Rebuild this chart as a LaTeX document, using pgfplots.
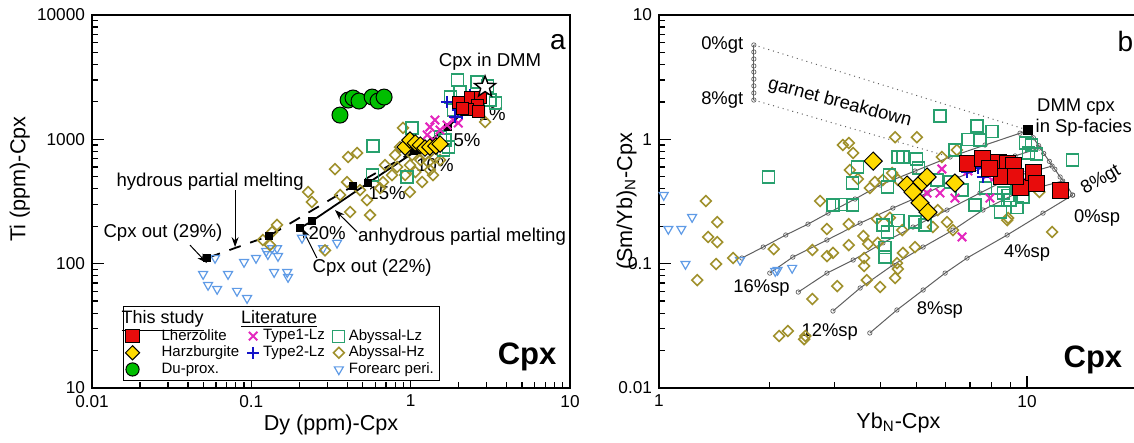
\documentclass[border=0pt]{standalone}
\usepackage{fontspec}
\setmainfont{Liberation Sans}
\usepackage{pgfplots}
\pgfplotsset{compat=1.18}
\usetikzlibrary{arrows.meta}

\definecolor{cred}{RGB}{232,12,12}
\definecolor{cyel}{RGB}{255,218,0}
\definecolor{cgrn}{RGB}{0,190,0}
\definecolor{cmag}{RGB}{228,40,190}
\definecolor{cblu}{RGB}{20,20,200}
\definecolor{cabl}{RGB}{40,160,110}
\definecolor{cabh}{RGB}{160,145,45}
\definecolor{cfor}{RGB}{95,155,230}
\definecolor{cmod}{RGB}{95,95,95}

\newcommand\lgf{\fontsize{7.5}{8.4}\selectfont}
\newcommand\lgh{\fontsize{9}{10}\selectfont}

\pgfdeclareplotmark{pstar}{%
  \pgfpathmoveto{\pgfpointpolar{90}{\pgfplotmarksize}}%
  \pgfpathlineto{\pgfpointpolar{126}{0.42*\pgfplotmarksize}}%
  \pgfpathlineto{\pgfpointpolar{162}{\pgfplotmarksize}}%
  \pgfpathlineto{\pgfpointpolar{198}{0.42*\pgfplotmarksize}}%
  \pgfpathlineto{\pgfpointpolar{234}{\pgfplotmarksize}}%
  \pgfpathlineto{\pgfpointpolar{270}{0.42*\pgfplotmarksize}}%
  \pgfpathlineto{\pgfpointpolar{306}{\pgfplotmarksize}}%
  \pgfpathlineto{\pgfpointpolar{342}{0.42*\pgfplotmarksize}}%
  \pgfpathlineto{\pgfpointpolar{18}{\pgfplotmarksize}}%
  \pgfpathlineto{\pgfpointpolar{54}{0.42*\pgfplotmarksize}}%
  \pgfpathclose
  \pgfusepathqfillstroke
}

\pgfplotsset{
  sLh/.style={only marks, mark=square*, mark size=3.3pt, mark options={fill=cred, draw=black, line width=0.5pt}},
  sHz/.style={only marks, mark=square*, mark size=2.9pt, mark options={rotate=45, fill=cyel, draw=black, line width=0.5pt}},
  sDu/.style={only marks, mark=*, mark size=4pt, mark options={fill=cgrn, draw=black, line width=0.5pt}},
  sT1/.style={only marks, mark=x, mark size=3pt, mark options={draw=cmag, line width=1pt}},
  sT2/.style={only marks, mark=+, mark size=3pt, mark options={draw=cblu, line width=1pt}},
  sAL/.style={only marks, mark=square, mark size=3pt, mark options={draw=cabl, line width=0.6pt}},
  sAH/.style={only marks, mark=square, mark size=1.9pt, mark options={rotate=45, draw=cabh, line width=0.8pt}},
  sFA/.style={only marks, mark=triangle, mark size=2.6pt, mark options={rotate=180, draw=cfor, line width=0.6pt}},
  mcurve/.style={color=cmod, line width=0.5pt, mark=o, mark size=1.1pt, mark options={fill=white, line width=0.35pt, draw=cmod}},
}

\begin{document}
\begin{tikzpicture}
\path[use as bounding box] (0,0) rectangle (567pt,221.5pt);
% ================= Panel a =================
\begin{axis}[scale only axis, xmode=log, ymode=log, clip=false,
  tick align=inside, xtick pos=left, ytick pos=left,
  major tick length=6pt, minor tick length=3pt,
  axis line style={line width=0.8pt},
  every tick/.style={black, line width=0.6pt},
  tick label style={font=\fontsize{8.6}{10}\selectfont},
  label style={font=\fontsize{10.8}{12}\selectfont},
  at={(46pt,27.5pt)}, anchor=south west,
  width=239pt, height=186.5pt,
  xmin=0.01, xmax=10, ymin=10, ymax=10000,
  xtick={0.01,0.1,1,10}, xticklabels={0.01,0.1,1,10},
  minor xtick={0.02,0.03,0.04,0.05,0.06,0.07,0.08,0.09,0.2,0.3,0.4,0.5,0.6,0.7,0.8,0.9,2,3,4,5,6,7,8,9},
  ytick={10,100,1000,10000}, yticklabels={10,100,1000,10000},
  minor ytick={20,30,40,50,60,70,80,90,200,300,400,500,600,700,800,900,2000,3000,4000,5000,6000,7000,8000,9000},
  xlabel={Dy (ppm)-Cpx}, ylabel={Ti (ppm)-Cpx},
  xlabel style={at={(axis description cs:0.5,-0.1)}, anchor=center},
  ylabel style={at={(axis description cs:-0.151,0.56)}, anchor=center},
  legend image code/.code={\draw[mark repeat=2,mark phase=2,#1] plot coordinates {(0cm,0cm) (0.1cm,0cm) (0.2cm,0cm)};},
  legend columns=3, legend cell align=left,
  legend style={at={(axis description cs:0.065,0.22)}, anchor=north west,
    draw=black, inner xsep=1pt, inner ysep=0pt, row sep=-2.6pt,
    /tikz/every even column/.append style={column sep=2pt}},
]
% legend
\addlegendimage{empty legend}\addlegendentry{\makebox[0pt][l]{\hspace*{-11pt}\lgh\underline{This study}}}
\addlegendimage{empty legend}\addlegendentry{\makebox[0pt][l]{\hspace*{-11pt}\lgh\underline{Literature}}}
\addlegendimage{empty legend}\addlegendentry{}
\addlegendimage{sLh}\addlegendentry{\hspace*{9pt}\lgf Lherzolite}
\addlegendimage{sT1}\addlegendentry{\lgf Type1-Lz}
\addlegendimage{sAL}\addlegendentry{\lgf Abyssal-Lz}
\addlegendimage{sHz, mark size=2.5pt}\addlegendentry{\hspace*{9pt}\lgf Harzburgite}
\addlegendimage{sT2}\addlegendentry{\lgf Type2-Lz}
\addlegendimage{sAH}\addlegendentry{\lgf Abyssal-Hz}
\addlegendimage{sDu, mark size=3.3pt}\addlegendentry{\hspace*{9pt}\lgf Du-prox.}
\addlegendimage{empty legend}\addlegendentry{}
\addlegendimage{sFA}\addlegendentry{\lgf Forearc peri.}

% Forearc peridotite
\addplot[sFA, forget plot] coordinates {(0.0592,111)(0.0498,82.4)(0.0714,82.4)(0.0535,67.3)(0.0610,62.5)(0.0813,60.3)(0.094,52.8)(0.090,103)(0.107,111)(0.124,126)(0.135,133)(0.145,133)(0.127,119)(0.147,115)(0.139,85.5)(0.168,85.5)(0.170,78)(0.208,161)(0.282,133)(0.345,147)};
% Abyssal-Hz
\addplot[sAH, forget plot] coordinates {(0.895,1234)(0.857,867)(0.461,776)(0.405,721)(0.335,577)(0.399,453)(0.227,377)(0.240,313)(0.361,357)(0.417,260)(0.556,246)(0.532,325)(0.671,453)(0.99,377)(0.118,155)(0.145,205)(0.135,180)(0.131,141)(0.29,128)(0.822,599)(0.99,621)(1.15,681)(1.23,748)(1.32,566)(1.42,708)(0.690,621)(0.923,516)(1.07,546)(1.53,681)(2.93,1377)(0.798,748)(1.11,820)(0.764,516)(1.29,656)(1.02,748)(0.643,405)(0.481,391)(1.38,516)(1.18,453)};
% Abyssal-Lz
\addplot[sAL, forget plot] coordinates {(1.96,3000)(2.61,2892)(3.02,2685)(3.39,1960)(3.15,2070)(2.04,2404)(1.77,2188)(1.85,1722)(1.02,1234)(1.53,1045)(1.64,986)(0.581,883)(0.573,516)(0.948,498)(1.72,867)(1.60,820)};
% melting models
\addplot[black, line width=0.9pt, mark=square*, mark size=1.5pt, forget plot] coordinates {(2.93,2637)(2.46,1995)(1.72,1256)(1.10,820)(0.541,445)(0.240,220)(0.202,193)};
\addplot[black, line width=0.9pt, dash pattern=on 6pt off 5pt, mark=square*, mark size=1.5pt, mark options={solid}, forget plot] coordinates {(1.05,800)(0.435,421)(0.129,167)(0.0527,111)};
% Type1 / Type2
\addplot[sT1, forget plot] coordinates {(1.42,1429)(1.32,1256)(1.53,1188)(1.27,1084)(1.85,1429)(1.99,1352)(1.69,1303)(1.38,986)};
\addplot[sT2, forget plot] coordinates {(1.69,1995)(1.99,1722)(2.13,1888)(2.26,2070)(2.36,2270)(2.10,1630)(1.90,1510)};
% This study
\addplot[sHz, forget plot] coordinates {(0.923,867)(0.99,986)(1.07,933)(1.15,899)(1.23,851)(1.32,867)(1.44,883)(1.53,916)};
\addplot[sLh, mark size=3pt, forget plot] coordinates {(1.99,1995)(2.36,2150)(2.73,2188)(2.61,1888)(2.26,1722)(2.65,1660)(2.10,1786)};
\addplot[sDu, forget plot] coordinates {(0.36,1567)(0.405,2070)(0.435,2150)(0.474,2032)(0.573,2188)(0.624,2032)(0.681,2188)};
% DMM star
\addplot[only marks, mark=pstar, mark size=5.5pt, mark options={fill=white, draw=black, line width=0.7pt}, forget plot] coordinates {(2.93,2637)};

% annotations
\node[font=\fontsize{9.3}{11}\selectfont] at (axis cs:3.15,4188) {Cpx in DMM};
\node[font=\fontsize{14}{16}\selectfont] at (axis cs:8.41,6067) {a};
\node[font=\fontsize{9.3}{11}\selectfont] at (axis cs:3.25,1600) {1\%};
\node[font=\fontsize{9.3}{11}\selectfont] at (axis cs:2.26,986) {5\%};
\node[font=\fontsize{9.3}{11}\selectfont] at (axis cs:1.42,621) {10\%};
\node[font=\fontsize{9.3}{11}\selectfont] at (axis cs:0.711,370) {15\%};
\node[font=\fontsize{9.3}{11}\selectfont] at (axis cs:0.299,176) {20\%};
\node[font=\fontsize{9.3}{11}\selectfont] at (axis cs:0.0551,453) {hydrous partial melting};
\node[font=\fontsize{9.3}{11}\selectfont] at (axis cs:0.0279,176) {Cpx out (29\%)};
\node[font=\fontsize{9.3}{11}\selectfont] at (axis cs:2.10,164) {anhydrous partial melting};
\node[font=\fontsize{9.3}{11}\selectfont] at (axis cs:0.573,92.3) {Cpx out (22\%)};
\node[font=\bfseries\fontsize{15.5}{18}\selectfont] at (axis cs:5.38,17.7) {Cpx};
\draw[-{Stealth[length=5pt,width=3.5pt]}, line width=0.5pt] (axis cs:0.0791,391) -- (axis cs:0.0791,136);
\draw[-{Stealth[length=5pt,width=3.5pt]}, line width=0.5pt] (axis cs:0.0412,141) -- (axis cs:0.0527,101);
\draw[-{Stealth[length=5pt,width=3.5pt]}, line width=0.5pt] (axis cs:0.461,180) -- (axis cs:0.335,270);
\draw[-{Stealth[length=5pt,width=3.5pt]}, line width=0.5pt] (axis cs:0.258,111) -- (axis cs:0.208,193);
\end{axis}

% ================= Panel b =================
\begin{axis}[scale only axis, xmode=log, ymode=log, clip=false,
  tick align=inside, xtick pos=left, ytick pos=left,
  major tick length=6pt, minor tick length=3pt,
  axis line style={line width=0.8pt},
  every tick/.style={black, line width=0.6pt},
  tick label style={font=\fontsize{8.6}{10}\selectfont},
  label style={font=\fontsize{10.8}{12}\selectfont},
  at={(329.5pt,27.5pt)}, anchor=south west,
  width=239.4pt, height=186.5pt,
  xmin=1, xmax=20, ymin=0.01, ymax=10,
  xtick={1,10}, xticklabels={1,10},
  minor xtick={2,3,4,5,6,7,8,9},
  ytick={0.01,0.1,1,10}, yticklabels={0.01,0.1,1,10},
  minor ytick={0.02,0.03,0.04,0.05,0.06,0.07,0.08,0.09,0.2,0.3,0.4,0.5,0.6,0.7,0.8,0.9,2,3,4,5,6,7,8,9},
  xlabel={Yb\textsubscript{N}-Cpx}, ylabel={(Sm/Yb)\textsubscript{N}-Cpx},
  xlabel style={at={(axis description cs:0.5,-0.094)}, anchor=center},
  ylabel style={at={(axis description cs:-0.068,0.5)}, anchor=center},
]
% garnet breakdown
\addplot[cmod, dotted, line width=0.5pt, forget plot] coordinates {(1.81,5.74)(10.05,1.188)};
\addplot[cmod, dotted, line width=0.5pt, forget plot] coordinates {(1.81,2.07)(6.18,0.721)};
\addplot[mcurve, forget plot] coordinates {(1.81,5.74)(1.81,5.04)(1.81,4.43)(1.81,3.89)(1.81,3.48)(1.81,3.05)(1.81,2.69)(1.81,2.36)(1.81,2.07)};
% DMM to 8%gt
\addplot[mcurve, forget plot] coordinates {(10.05,1.188)(10.4,1.03)(10.75,0.89)(11.1,0.77)(11.5,0.665)(11.9,0.575)(12.3,0.498)(12.8,0.43)(13.3,0.356)};
% spinel melting curves
\addplot[mcurve, forget plot] coordinates {(10.05,1.188)(9.57,1.12)(7.69,0.900)(6.18,0.721)(4.96,0.556)(3.99,0.429)(3.41,0.331)(2.88,0.255)(2.54,0.208)(2.21,0.170)(1.92,0.136)(1.68,0.111)};
\addplot[mcurve, forget plot] coordinates {(10.8,0.851)(9.28,0.735)(7.93,0.621)(6.45,0.489)(5.35,0.370)(4.32,0.280)(3.52,0.212)(2.86,0.155)(2.31,0.113)(2.00,0.0840)};
\addplot[mcurve, forget plot] coordinates {(11.7,0.610)(8.99,0.489)(7.45,0.370)(6.06,0.270)(4.90,0.197)(4.06,0.147)(3.37,0.107)(2.86,0.0840)(2.39,0.0591)};
\addplot[mcurve, forget plot] coordinates {(12.5,0.462)(9.39,0.370)(7.59,0.270)(6.29,0.186)(5.22,0.136)(4.32,0.0975)(3.52,0.0637)(2.97,0.0416)};
\addplot[mcurve, forget plot] coordinates {(13.3,0.356)(11.05,0.255)(8.83,0.170)(6.87,0.111)(5.99,0.0840)(5.22,0.0614)(4.43,0.0424)(3.74,0.0277)};
% Forearc
\addplot[sFA, forget plot] coordinates {(1.03,0.356)(1.23,0.237)(1.06,0.190)(1.15,0.190)(1.18,0.0993)(1.66,0.107)(2.07,0.0871)(2.10,0.089)(2.30,0.0923)};
% Abyssal-Hz
\addplot[sAH, forget plot] coordinates {(3.16,0.900)(3.28,0.934)(3.37,0.777)(3.30,0.566)(3.47,0.480)(1.34,0.319)(1.44,0.216)(1.36,0.164)(1.44,0.149)(1.43,0.0993)(1.27,0.0738)(1.59,0.111)(2.05,0.131)(2.74,0.319)(2.86,0.190)(2.61,0.129)(2.86,0.115)(3.05,0.0661)(2.61,0.0519)(3.28,0.208)(3.61,0.111)(3.67,0.0738)(3.99,0.0648)(4.43,0.101)(4.60,0.122)(4.58,0.186)(4.96,0.136)(5.55,0.197)(6.06,0.216)(6.29,0.186)(8.83,0.224)(11.7,0.180)(3.91,0.229)(4.24,0.234)(3.28,0.141)(3.70,0.144)(3.61,0.0957)(4.38,0.0766)(2.12,0.0262)(2.24,0.0287)(2.48,0.0247)(2.50,0.0262)(4.38,1.04)(5.02,1.04)(5.87,0.721)(10.8,0.377)(6.45,0.820)(3.74,0.406)(4.06,0.471)(4.30,0.536)(4.46,0.471)(3.86,0.453)(8.88,0.233)(5.72,0.270)(2.97,0.122)(4.46,0.0906)(3.59,0.167)(3.93,0.147)};
% Abyssal-Lz
\addplot[sAL, forget plot] coordinates {(5.80,1.54)(7.31,1.28)(8.03,1.15)(6.91,1.00)(7.45,0.986)(6.37,0.820)(4.60,0.721)(9.88,0.934)(10.3,0.900)(10.1,0.777)(13.3,0.681)(4.24,0.516)(5.06,0.588)(5.69,0.471)(9.39,0.406)(8.88,0.356)(9.39,0.285)(8.45,0.260)(5.28,0.205)(8.19,0.325)(4.17,0.413)(1.98,0.498)(3.47,0.598)(3.35,0.445)(2.97,0.296)(3.14,0.301)(3.35,0.296)(4.46,0.721)(4.06,0.205)(4.17,0.180)(4.46,0.224)(4.96,0.216)(4.11,0.134)(4.11,0.113)(8.61,0.370)(8.99,0.325)(9.75,0.344)(6.18,0.453)(5.02,0.695)(10.6,0.762)(6.66,0.391)(7.22,0.296)(7.7,0.406)};
% Type1 / Type2
\addplot[sT1, forget plot] coordinates {(5.87,0.577)(6.91,0.556)(7.79,0.516)(8.19,0.498)(8.71,0.516)(9.57,0.516)(5.35,0.370)(5.80,0.370)(6.37,0.337)(7.93,0.337)(6.66,0.164)};
\addplot[sT2, forget plot] coordinates {(7.79,0.656)(8.34,0.621)(8.71,0.598)(9.39,0.498)(9.69,0.453)(7.36,0.588)(6.87,0.546)(7.59,0.498)};
% This study
\addplot[sHz, mark size=3.2pt, forget plot] coordinates {(3.82,0.668)(4.72,0.429)(4.90,0.377)(5.18,0.453)(5.35,0.498)(6.37,0.445)(5.12,0.308)(5.38,0.260)};
\addplot[sLh, mark size=4pt, forget plot] coordinates {(6.91,0.644)(7.59,0.695)(8.34,0.656)(8.83,0.644)(9.16,0.621)(9.57,0.413)(10.4,0.546)(10.6,0.445)(12.3,0.391)(8.55,0.498)(9.28,0.498)(7.93,0.588)};
% DMM cpx
\addplot[only marks, mark=square*, mark size=2.4pt, mark options={fill=black, draw=black}, forget plot] coordinates {(10.05,1.188)};

% annotations
\node[font=\fontsize{9.2}{11}\selectfont, anchor=east] at (axis cs:1.77,5.74) {0\%gt};
\node[font=\fontsize{9.2}{11}\selectfont, anchor=east] at (axis cs:1.77,2.07) {8\%gt};
\node[font=\fontsize{9.2}{11}\selectfont, rotate=-15] at (axis cs:3.10,1.96) {garnet breakdown};
\node[font=\fontsize{9.2}{11}\selectfont, anchor=west, inner sep=1pt] at (axis cs:10.5,1.82) {DMM cpx};
\node[font=\fontsize{9.2}{11}\selectfont, anchor=west, inner sep=1pt] at (axis cs:10.4,1.23) {in Sp-facies};
\node[font=\fontsize{9.2}{11}\selectfont, rotate=30, inner sep=0pt] at (axis cs:15.9,0.47) {8\%gt};
\node[font=\fontsize{9.2}{11}\selectfont, inner sep=0.5pt] at (axis cs:15.5,0.235) {0\%sp};
\node[font=\fontsize{9.2}{11}\selectfont] at (axis cs:10,0.122) {4\%sp};
\node[font=\fontsize{9.2}{11}\selectfont] at (axis cs:5.80,0.0424) {8\%sp};
\node[font=\fontsize{9.2}{11}\selectfont] at (axis cs:2.91,0.0282) {12\%sp};
\node[font=\fontsize{9.2}{11}\selectfont] at (axis cs:1.90,0.0637) {16\%sp};
\node[font=\fontsize{14}{16}\selectfont] at (axis cs:18.5,6.07) {b};
\node[font=\bfseries\fontsize{15.5}{18}\selectfont] at (axis cs:15.1,0.0167) {Cpx};
\end{axis}
\end{tikzpicture}
\end{document}
